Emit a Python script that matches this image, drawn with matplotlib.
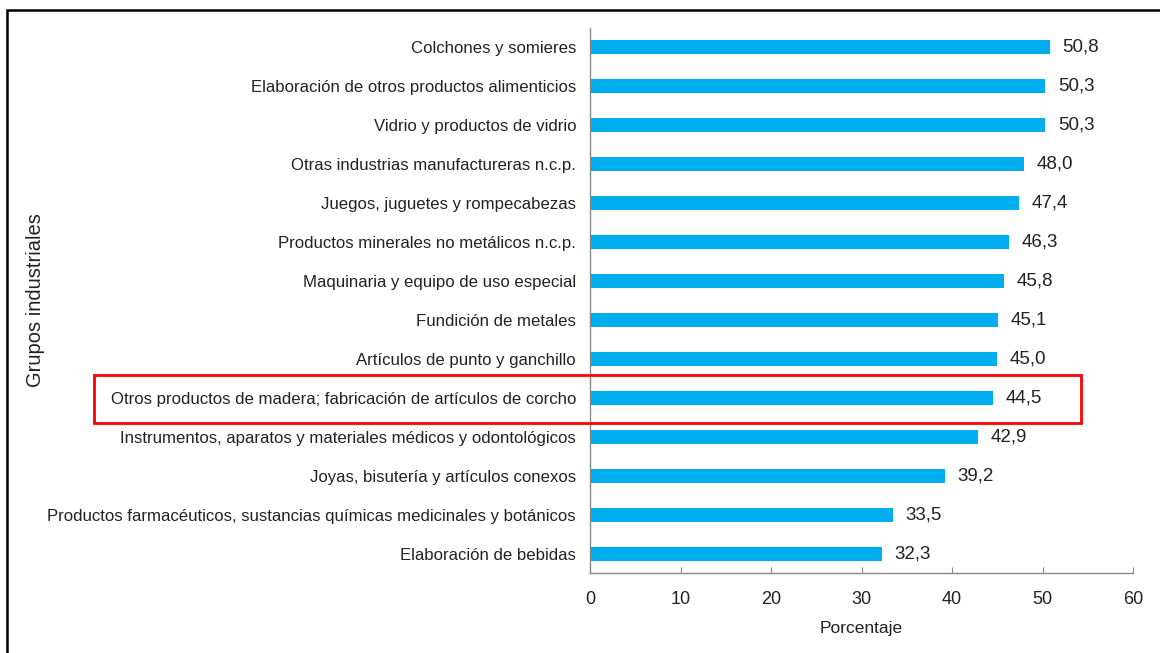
import matplotlib.pyplot as plt
from matplotlib.patches import Rectangle

plt.rcParams['font.family'] = ['Liberation Sans', 'DejaVu Sans']

# Grupos industriales, de arriba hacia abajo
categorias = [
    "Colchones y somieres",
    "Elaboración de otros productos alimenticios",
    "Vidrio y productos de vidrio",
    "Otras industrias manufactureras n.c.p.",
    "Juegos, juguetes y rompecabezas",
    "Productos minerales no metálicos n.c.p.",
    "Maquinaria y equipo de uso especial",
    "Fundición de metales",
    "Artículos de punto y ganchillo",
    "Otros productos de madera; fabricación de artículos de corcho",
    "Instrumentos, aparatos y materiales médicos y odontológicos",
    "Joyas, bisutería y artículos conexos",
    "Productos farmacéuticos, sustancias químicas medicinales y botánicos",
    "Elaboración de bebidas",
]
porcentajes = [50.8, 50.3, 50.3, 48.0, 47.4, 46.3, 45.8, 45.1, 45.0, 44.5, 42.9, 39.2, 33.5, 32.3]
destacado = "Otros productos de madera; fabricación de artículos de corcho"
xticks = [0, 10, 20, 30, 40, 50, 60]

COLOR_BARRA = "#00AEEF"
COLOR_TEXTO = "#222222"

fig = plt.figure(figsize=(11.6, 6.53), dpi=100)
ax = fig.add_axes([590 / 1160, 1 - 573 / 653, (1133 - 590) / 1160, (573 - 28) / 653])

pos = list(range(len(categorias)))
ax.barh(pos, porcentajes, height=0.37, color=COLOR_BARRA)

for y, v in zip(pos, porcentajes):
    ax.annotate(f"{v:.1f}".replace(".", ","), xy=(v, y), xytext=(9, 0),
                textcoords="offset points", va="center", ha="left",
                fontsize=13.5, color=COLOR_TEXTO)

ax.set_yticks(pos)
ax.set_yticklabels(categorias, fontsize=12.1, color=COLOR_TEXTO)
ax.set_ylim(len(categorias) - 0.51, -0.49)
ax.set_xlim(0, 60)
ax.set_xticks(xticks)
ax.set_xticklabels([str(t) for t in xticks], fontsize=13, color=COLOR_TEXTO)

ax.tick_params(axis="y", length=0, pad=10)
ax.tick_params(axis="x", direction="in", length=4, color="#888888", pad=13)
for s in ["top", "right"]:
    ax.spines[s].set_visible(False)
for s in ["left", "bottom"]:
    ax.spines[s].set_color("#888888")
    ax.spines[s].set_linewidth(1)

ax.set_xlabel("Porcentaje", fontsize=12.5, color=COLOR_TEXTO, labelpad=9)
fig.text(36 / 1160, 1 - 300 / 653, "Grupos industriales", rotation=90,
         ha="center", va="center", fontsize=14.5, color=COLOR_TEXTO)

# recuadro rojo sobre el grupo destacado
fig.add_artist(Rectangle((94 / 1160, 1 - 423 / 653), (1081 - 94) / 1160, 48 / 653,
                         transform=fig.transFigure, fill=False,
                         edgecolor="#FF0000", linewidth=2))

# marco exterior (solo se ven los bordes superior e izquierdo)
fig.add_artist(Rectangle((7 / 1160, -0.1), 1.2, 1.1 - 10 / 653,
                         transform=fig.transFigure, fill=False,
                         edgecolor="black", linewidth=1.8))

fig.savefig("out.png", dpi=100)
